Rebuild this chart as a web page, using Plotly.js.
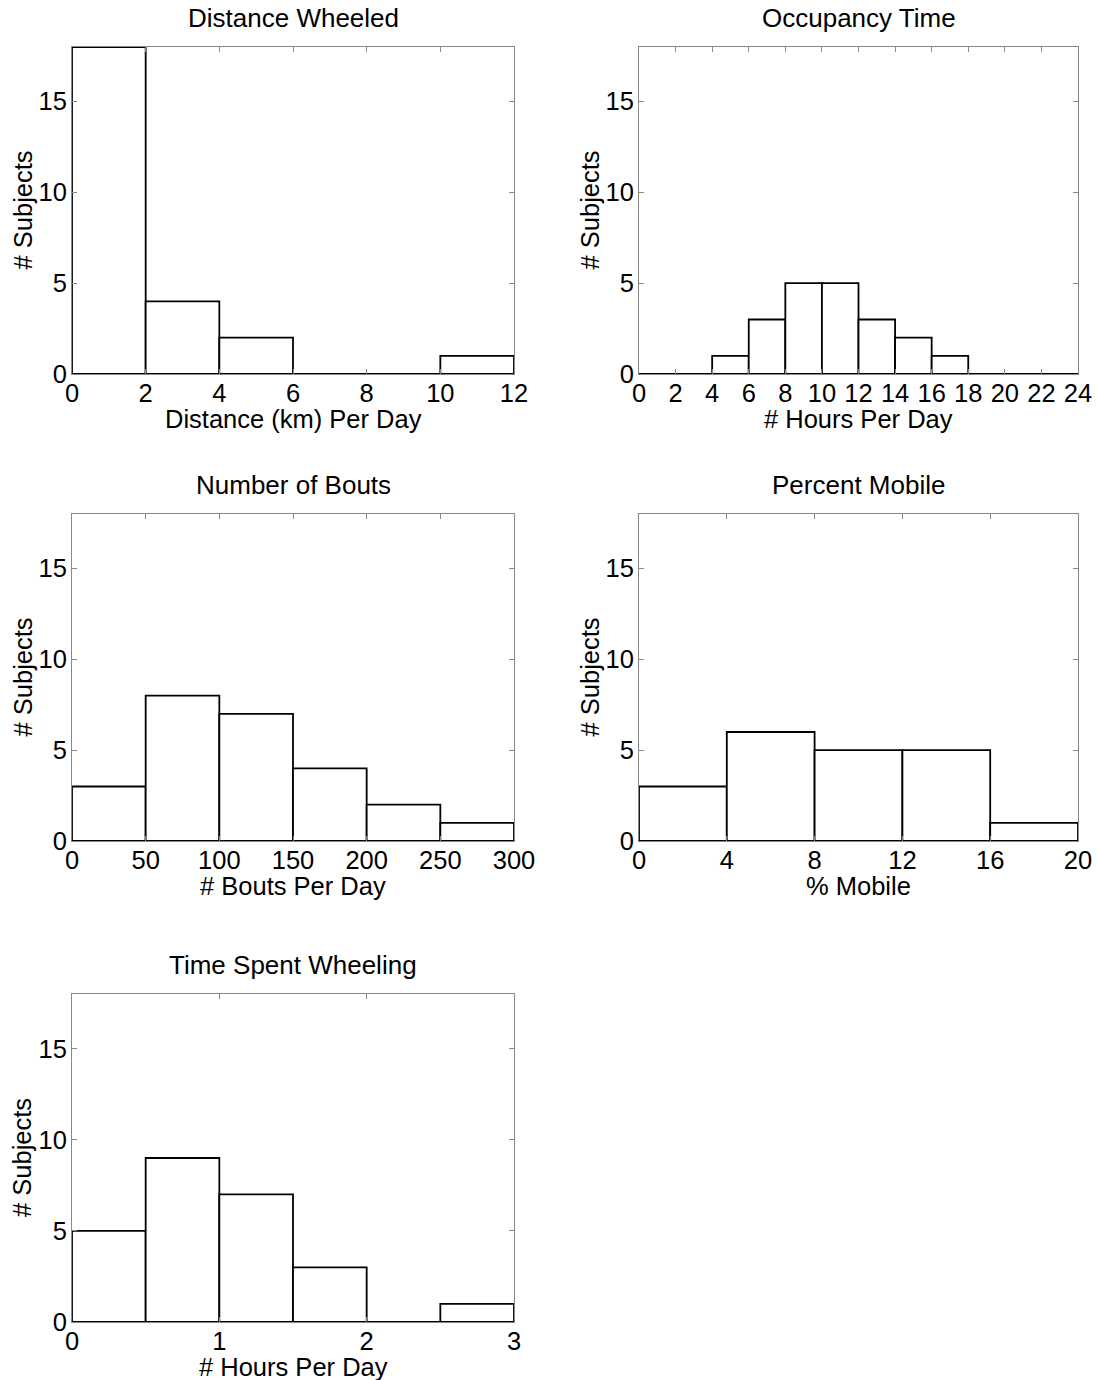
<!DOCTYPE html>
<html>
<head>
<meta charset="utf-8">
<script src="https://cdn.plot.ly/plotly-3.0.1.min.js"></script>
<style>html,body{margin:0;padding:0;background:#fff}</style>
</head>
<body>
<div id="chart" style="width:1098px;height:1380px"></div>
<script>
// ---- Data ----
const panelTitles = ["Distance Wheeled", "Occupancy Time", "Number of Bouts", "Percent Mobile", "Time Spent Wheeling"];
const xLabels = ["Distance (km) Per Day", "# Hours Per Day", "# Bouts Per Day", "% Mobile", "# Hours Per Day"];
const yLabel = "# Subjects";

const distanceBinCenters = [1, 3, 5, 7, 9, 11];
const distanceCounts     = [18, 4, 2, 0, 0, 1];

const occupancyBinCenters = [1, 3, 5, 7, 9, 11, 13, 15, 17, 19, 21, 23];
const occupancyCounts     = [0, 0, 1, 3, 5, 5, 3, 2, 1, 0, 0, 0];

const boutsBinCenters = [25, 75, 125, 175, 225, 275];
const boutsCounts     = [3, 8, 7, 4, 2, 1];

const mobileBinCenters = [2, 6, 10, 14, 18];
const mobileCounts     = [3, 6, 5, 5, 1];

const wheelingBinCenters = [0.25, 0.75, 1.25, 1.75, 2.25, 2.75];
const wheelingCounts     = [5, 9, 7, 3, 0, 1];

const binWidths = [2, 2, 50, 4, 0.5];
const xRanges = [[0, 12], [0, 24], [0, 300], [0, 20], [0, 3]];
const xDticks = [2, 2, 50, 4, 1];
const yRange = [0, 18];
const yTickVals = [0, 5, 10, 15];

// ---- Layout geometry (pixels) ----
const W = 1098, H = 1380;
const cols = [[72, 514], [639, 1078]];
const rows = [[47, 374], [514, 841], [994, 1322]];
const cells = [[0, 0], [0, 1], [1, 0], [1, 1], [2, 0]];

const FONT = "Liberation Sans, Arial, sans-serif";
const FS = 25.5;

const centersList = [distanceBinCenters, occupancyBinCenters, boutsBinCenters, mobileBinCenters, wheelingBinCenters];
const countsList = [distanceCounts, occupancyCounts, boutsCounts, mobileCounts, wheelingCounts];

const data = [];
const layout = {
  width: W, height: H,
  margin: {l: 0, r: 0, t: 0, b: 0},
  paper_bgcolor: "#fff",
  plot_bgcolor: "#fff",
  showlegend: false,
  bargap: 0,
  font: {family: FONT, size: FS, color: "#000"},
  annotations: []
};

cells.forEach((rc, i) => {
  const [r, c] = rc;
  const n = i === 0 ? "" : String(i + 1);
  const xa = "xaxis" + n, ya = "yaxis" + n;
  data.push({
    type: "bar",
    x: centersList[i],
    y: countsList[i],
    width: binWidths[i],
    xaxis: "x" + n, yaxis: "y" + n,
    marker: {color: "#fff", line: {color: "#000", width: 1.8}},
    hoverinfo: "x+y"
  });
  const col = cols[c], row = rows[r];
  layout[xa] = {
    domain: [col[0] / W, col[1] / W],
    anchor: "y" + n,
    range: xRanges[i],
    tick0: 0, dtick: xDticks[i],
    ticks: "inside", ticklen: 5, tickcolor: "#888", tickwidth: 1,
    showline: true, linecolor: "#888", linewidth: 1, mirror: "ticks",
    showgrid: false, zeroline: false,
    tickfont: {family: FONT, size: FS, color: "#000"},
    ticklabelstandoff: -4,
    automargin: false, fixedrange: true
  };
  layout[ya] = {
    domain: [1 - row[1] / H, 1 - row[0] / H],
    anchor: "x" + n,
    range: yRange,
    tickvals: yTickVals,
    ticks: "inside", ticklen: 5, tickcolor: "#888", tickwidth: 1,
    showline: true, linecolor: "#888", linewidth: 1, mirror: "ticks",
    showgrid: false, zeroline: false,
    tickfont: {family: FONT, size: FS, color: "#000"},
    ticklabelstandoff: -1,
    automargin: false, fixedrange: true
  };
  // panel title
  layout.annotations.push({
    text: panelTitles[i],
    xref: "x" + n + " domain", yref: "y" + n + " domain",
    x: 0.5, y: 1, xanchor: "center", yanchor: "bottom",
    yshift: 12, showarrow: false,
    font: {family: FONT, size: 26, color: "#000"}
  });
  // x-axis title
  layout.annotations.push({
    text: xLabels[i],
    xref: "x" + n + " domain", yref: "y" + n + " domain",
    x: 0.5, y: 0, xanchor: "center", yanchor: "top",
    yshift: -29, showarrow: false,
    font: {family: FONT, size: FS, color: "#000"}
  });
  // y-axis title
  layout.annotations.push({
    text: yLabel,
    xref: "x" + n + " domain", yref: "y" + n + " domain",
    x: 0, y: 0.5, xanchor: "center", yanchor: "middle",
    xshift: -50, textangle: -90, showarrow: false,
    font: {family: FONT, size: FS, color: "#000"}
  });
});

Plotly.newPlot("chart", data, layout, {displayModeBar: false, staticPlot: true});
</script>
</body>
</html>
